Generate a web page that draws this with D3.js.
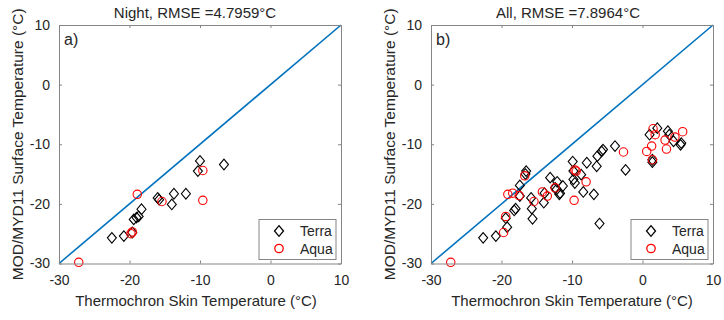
<!DOCTYPE html>
<html>
<head>
<meta charset="utf-8">
<script src="https://cdn.jsdelivr.net/npm/d3@7/dist/d3.min.js"></script>
<style>
  body { margin: 0; background: #fff; }
  text { font-family: Arial, "Liberation Sans", Helvetica, sans-serif; fill: #262626; }
</style>
</head>
<body>
<div id="chart"></div>
<script>
// axis ticks shared by both panels
const tickValues = [-30, -20, -10, 0, 10];

// panel a) night observations
const nightTerraX = [-22.5, -20.8, -19.6, -19.4, -19.0, -18.7, -18.3, -16.0, -15.8, -14.0, -13.7, -12.0, -10.3, -10.0, -6.6];
const nightTerraY = [-25.7, -25.4, -24.8, -22.6, -22.3, -22.1, -20.9, -19.0, -19.3, -20.1, -18.3, -18.3, -14.5, -12.8, -13.4];
const nightAquaX = [-27.2, -19.8, -19.6, -18.9, -15.4, -9.6, -9.6];
const nightAquaY = [-29.8, -25.0, -24.7, -18.4, -19.6, -14.4, -19.4];

// panel b) all observations
const allTerraX = [-22.6, -20.8, -19.2, -19.4, -18.2, -18.0, -17.4, -17.4, -16.6, -16.5, -15.8, -15.7, -15.6,
  -14.0, -13.9, -13.1, -12.4, -12.2, -12.1, -11.8, -11.7, -11.3, -9.9, -9.8, -9.8, -9.6, -8.7, -8.4, -7.9,
  -6.9, -6.5, -6.4, -5.8, -5.6, -6.1, -3.9, -2.4, 1.0, 1.4, 1.4, 2.1, 3.6, 3.8, 4.4, 5.4, 5.5];
const allTerraY = [-25.7, -25.4, -23.9, -22.4, -21.1, -20.8, -18.7, -16.9, -15.0, -14.5, -19.0, -20.8, -22.5,
  -19.8, -18.2, -15.6, -17.3, -17.6, -16.3, -18.4, -18.2, -17.0, -12.9, -15.9, -14.5, -16.5, -15.1, -18.0, -13.1,
  -18.4, -13.7, -12.0, -11.2, -10.9, -23.3, -10.3, -14.3, -8.4, -12.6, -13.0, -7.3, -7.8, -8.4, -9.5, -10.1, -9.8];
const allAquaX = [-27.2, -19.7, -19.4, -19.1, -18.4, -17.5, -16.7, -15.4, -14.2, -13.5, -12.4, -9.7, -9.6, -9.4,
  -8.0, -2.7, 0.6, 1.3, 1.4, 1.5, 1.8, 3.2, 3.4, 4.6, 5.7];
const allAquaY = [-29.8, -24.8, -22.1, -18.4, -18.2, -18.6, -15.3, -19.6, -18.0, -18.7, -17.3, -19.4, -14.3, -14.5,
  -16.3, -11.3, -11.2, -10.3, -12.6, -7.4, -8.4, -9.3, -10.8, -8.8, -7.9];

const panelTitles = ["Night, RMSE =4.7959°C", "All, RMSE =7.8964°C"];
const panelLetters = ["a)", "b)"];
const seriesNames = ["Terra", "Aqua"];

const LINE_COLOR = "#0072BD";
const TERRA_COLOR = "#000000";
const AQUA_COLOR = "#FF0000";
const AXIS_COLOR = "#858585";
const DIAMOND = "M0,-5.3L4.5,0L0,5.3L-4.5,0Z";

let svg = null;

renderChart();

function renderChart() {
  svg = d3.select("#chart")
    .append("svg")
    .attr("width", 724)
    .attr("height", 320);

  svg.append("rect").attr("width", 724).attr("height", 320).attr("fill", "#fff");

  renderPanel({left: 59, titleX: 195, labelX: 196}, 0,
    zip(nightTerraX, nightTerraY), zip(nightAquaX, nightAquaY));
  renderPanel({left: 431, titleX: 568, labelX: 572}, 1,
    zip(allTerraX, allTerraY), zip(allAquaX, allAquaY));
}

function zip(xs, ys) {
  return xs.map(function(v, i) { return {x: v, y: ys[i]}; });
}

/**
 * @method renderPanel
 * @description Draws one scatter panel: box axes, 1:1 line, markers, legend and texts
 */
function renderPanel(pos, index, terra, aqua) {
  const top = 25, bottom = 263.5;
  const width = 282;

  const x = d3.scaleLinear().domain([-30, 10]).range([0, width]);
  const y = d3.scaleLinear().domain([-30, 10]).range([bottom - top, 0]);
  const h = bottom - top;

  const g = svg.append("g").attr("transform", `translate(${pos.left}, ${top})`);

  // one-to-one line
  const line = d3.line()
    .x(function(d) { return x(d); })
    .y(function(d) { return y(d); });

  g.append("path")
    .datum([-30, 10])
    .attr("fill", "none")
    .attr("stroke", LINE_COLOR)
    .attr("stroke-width", 1.6)
    .attr("d", line);

  // terra diamonds
  g.selectAll(".terra")
    .data(terra)
    .enter().append("path")
    .attr("class", "terra")
    .attr("d", DIAMOND)
    .attr("transform", function(d) { return `translate(${x(d.x)}, ${y(d.y)})`; })
    .attr("fill", "none")
    .attr("stroke", TERRA_COLOR)
    .attr("stroke-width", 1.1);

  // aqua circles
  g.selectAll(".aqua")
    .data(aqua)
    .enter().append("circle")
    .attr("class", "aqua")
    .attr("cx", function(d) { return x(d.x); })
    .attr("cy", function(d) { return y(d.y); })
    .attr("r", 4.2)
    .attr("fill", "none")
    .attr("stroke", AQUA_COLOR)
    .attr("stroke-width", 1.1);

  // box axes with inward ticks on all sides
  const axes = [
    {axis: d3.axisBottom(x), t: `translate(0, ${h})`, labels: true, pad: 12},
    {axis: d3.axisTop(x), t: "translate(0, 0)", labels: false, pad: 9},
    {axis: d3.axisLeft(y), t: "translate(0, 0)", labels: true, pad: 9},
    {axis: d3.axisRight(y), t: `translate(${width}, 0)`, labels: false, pad: 9}
  ];
  axes.forEach(function(a) {
    const ag = g.append("g")
      .attr("transform", a.t)
      .call(a.axis.tickValues(tickValues).tickSizeInner(-3).tickSizeOuter(0).tickPadding(a.pad)
        .tickFormat(a.labels ? d3.format("d") : ""));
    ag.select(".domain").attr("stroke", AXIS_COLOR);
    ag.selectAll(".tick line").attr("stroke", AXIS_COLOR);
    ag.selectAll("text")
      .attr("fill", "#3a3a3a")
      .style("font-size", "14px")
      .style("font-family", "Arial, 'Liberation Sans', sans-serif");
  });
  g.selectAll(".tick text").each(function() {
    const t = d3.select(this);
    if (t.text() !== "") t.text(t.text().replace("−", "-"));
  });

  // panel letter
  g.append("text")
    .attr("x", 5)
    .attr("y", 20)
    .style("font-size", "16px")
    .attr("fill", "#000")
    .text(panelLetters[index]);

  // legend
  const lw = 77, lh = 40;
  const lg = g.append("g").attr("transform", `translate(${width - lw - 5}, ${h - lh - 4})`);
  lg.append("rect")
    .attr("width", lw)
    .attr("height", lh)
    .attr("fill", "#fff")
    .attr("stroke", AXIS_COLOR);
  lg.append("path")
    .attr("d", DIAMOND)
    .attr("transform", "translate(20, 11.5)")
    .attr("fill", "none")
    .attr("stroke", TERRA_COLOR)
    .attr("stroke-width", 1.3);
  lg.append("circle")
    .attr("cx", 20)
    .attr("cy", 29)
    .attr("r", 4.2)
    .attr("fill", "none")
    .attr("stroke", AQUA_COLOR)
    .attr("stroke-width", 1.3);
  seriesNames.forEach(function(name, i) {
    lg.append("text")
      .attr("x", 41)
      .attr("y", 16.5 + i * 17.5)
      .style("font-size", "14px")
      .attr("fill", "#000")
      .text(name);
  });

  // title
  svg.append("text")
    .attr("x", pos.titleX)
    .attr("y", 18)
    .attr("text-anchor", "middle")
    .style("font-size", "15px")
    .attr("fill", "#000")
    .text(panelTitles[index]);

  // x label
  svg.append("text")
    .attr("x", pos.labelX)
    .attr("y", 306)
    .attr("text-anchor", "middle")
    .style("font-size", "15px")
    .attr("fill", "#3a3a3a")
    .text("Thermochron Skin Temperature (°C)");

  // y label
  svg.append("text")
    .attr("transform", `translate(${pos.left - 36}, ${(top + bottom) / 2}) rotate(-90)`)
    .attr("text-anchor", "middle")
    .style("font-size", "15.5px")
    .attr("fill", "#3a3a3a")
    .text("MOD/MYD11 Surface Temperature (°C)");
}
</script>
</body>
</html>
